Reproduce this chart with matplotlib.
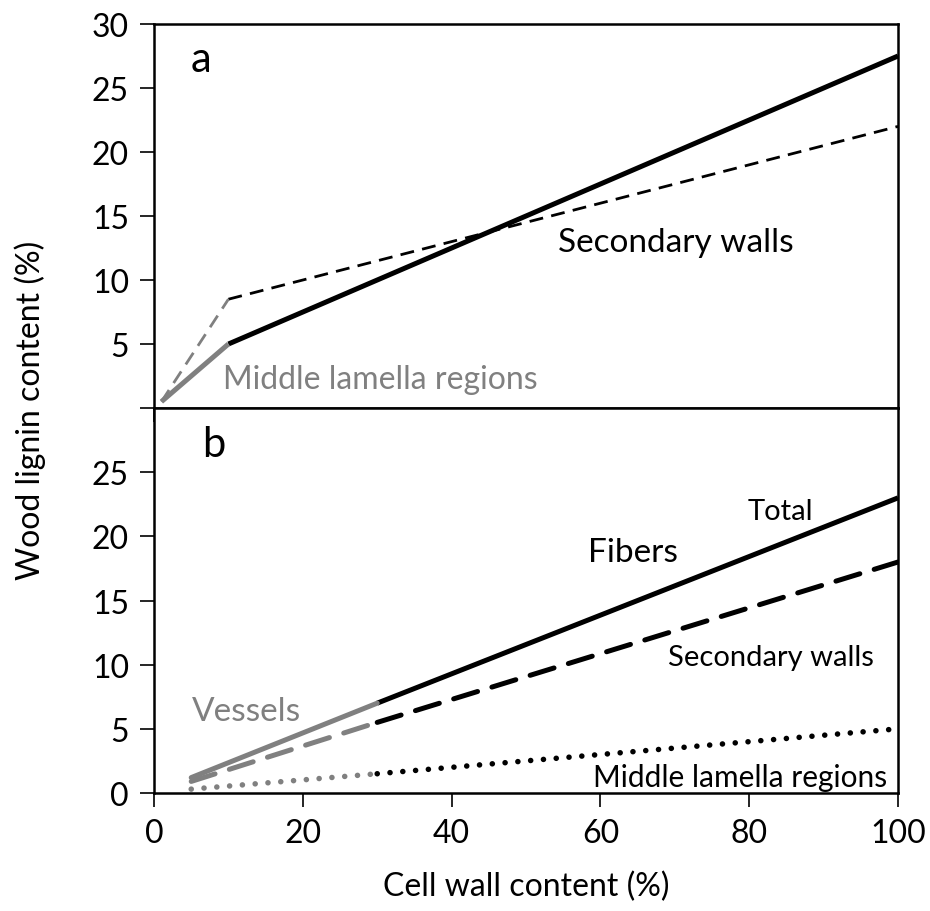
import numpy as np
import matplotlib.pyplot as plt

plt.rcParams['font.family'] = ['Lato', 'DejaVu Sans']

GRAY = '#808080'

# panel a: vessel-rich start (gray) and fiber part (black)
a_x_gray = [1, 10]
a_x_black = [10, 100]
a_total_gray = [0.5, 5.0]
a_total_black = [5.0, 27.5]
a_sec_gray = [0.5, 8.5]
a_sec_black = [8.5, 22.0]

# panel b: vessels (gray) then fibers (black)
b_x_gray = [5, 30]
b_x_black = [30, 100]
b_total_gray = [1.2, 7.0]
b_total_black = [7.0, 23.0]
b_sec_gray = [0.9, 5.5]
b_sec_black = [5.5, 18.0]
b_ml_gray = [0.3, 1.5]
b_ml_black = [1.5, 5.0]

xticks = [0, 20, 40, 60, 80, 100]

fig = plt.figure(figsize=(9.3, 9.12), dpi=100)
ax1 = fig.add_axes([0.1656, 0.5515, 0.8, 0.4211])
ax2 = fig.add_axes([0.1656, 0.1294, 0.8, 0.4221])

# top panel
ax1.plot(a_x_black, a_total_black, color='k', lw=3.6, solid_capstyle='butt')
ax1.plot(a_x_gray, a_total_gray, color=GRAY, lw=3.6, solid_capstyle='butt')
ax1.plot(a_x_black, a_sec_black, color='k', lw=2.0, dashes=(5, 3))
ax1.plot(a_x_gray, a_sec_gray, color=GRAY, lw=2.0, dashes=(5, 3))

ax1.text(6.3, 27.3, 'a', fontsize=30, va='center', ha='center')
ax1.text(54.3, 13, 'Secondary walls', fontsize=24, va='center')
ax1.text(9.3, 2.3, 'Middle lamella regions', fontsize=23, va='center', color=GRAY)

# bottom panel
ax2.plot(b_x_black, b_total_black, color='k', lw=3.6, solid_capstyle='butt')
ax2.plot(b_x_gray, b_total_gray, color=GRAY, lw=3.6, solid_capstyle='round')
ax2.plot(b_x_black, b_sec_black, color='k', lw=3.6, dashes=(5, 3), dash_capstyle='round')
ax2.plot(b_x_gray, b_sec_gray, color=GRAY, lw=3.6, dashes=(5, 3), dash_capstyle='round')
ax2.plot(b_x_black, b_ml_black, color='k', lw=4.0, dashes=(0.01, 2.3), dash_capstyle='round')
ax2.plot(b_x_gray, b_ml_gray, color=GRAY, lw=4.0, dashes=(0.01, 2.3), dash_capstyle='round')

ax2.text(8.0, 27.2, 'b', fontsize=30, va='center', ha='center')
ax2.text(79.8, 22.0, 'Total', fontsize=21, va='center')
ax2.text(58.3, 18.8, 'Fibers', fontsize=24, va='center')
ax2.text(69.1, 10.6, 'Secondary walls', fontsize=21, va='center')
ax2.text(59, 1.25, 'Middle lamella regions', fontsize=21.5, va='center')
ax2.text(5.1, 6.4, 'Vessels', fontsize=24, va='center', color=GRAY)

for ax in (ax1, ax2):
    ax.set_xlim(0, 100)
    ax.set_ylim(0, 30)
    ax.set_xticks(xticks)
    ax.tick_params(direction='out', length=10, width=1.2, labelsize=23, pad=8)
    for sp in ax.spines.values():
        sp.set_linewidth(1.8)

ax1.set_yticks([0, 5, 10, 15, 20, 25, 30])
ax1.set_yticklabels(['', '5', '10', '15', '20', '25', '30'])
ax1.set_xticklabels([])
ax2.set_yticks([0, 5, 10, 15, 20, 25])
ax2.set_xlabel('Cell wall content (%)', fontsize=23, labelpad=16)
fig.text(0.032, 0.55, 'Wood lignin content (%)', rotation=90, fontsize=23,
         va='center', ha='center')

fig.savefig('out.png', dpi=100)
